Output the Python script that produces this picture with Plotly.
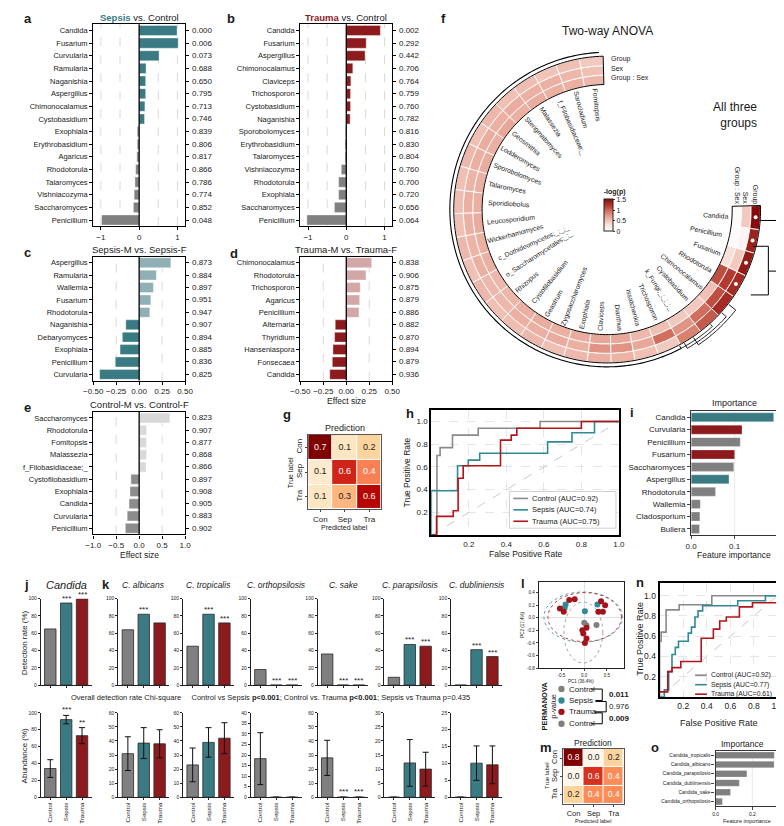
import numpy as np
import plotly.graph_objects as go

W, H = 784, 826
FONT = "Liberation Sans, Arial, sans-serif"
TEAL = "#3a7b83"
RED = "#8d1a1c"
GRAY = "#808080"
TXT = "#1a1a1a"
MINUS = "\u2212"

# ---------------- data ----------------
a_cats = ["Candida", "Fusarium", "Curvularia", "Ramularia", "Naganishia", "Aspergillus", "Chimonocalamus",
          "Cystobasidium", "Exophiala", "Erythrobasidium", "Agaricus", "Rhodotorula", "Talaromyces",
          "Vishniacozyma", "Saccharomyces", "Penicillium"]
a_vals = [0.99, 1.02, 0.52, 0.18, 0.17, 0.17, 0.15, 0.14, -0.05, -0.05, -0.06, -0.09, -0.11, -0.13, -0.15, -0.98]
a_p = ["0.000", "0.006", "0.073", "0.688", "0.650", "0.795", "0.713", "0.746", "0.839", "0.806", "0.817",
       "0.866", "0.786", "0.774", "0.852", "0.048"]

b_cats = ["Candida", "Fusarium", "Aspergillus", "Chimonocalamus", "Claviceps", "Trichosporon", "Cystobasidium",
          "Naganishia", "Sporobolomyces", "Erythrobasidium", "Talaromyces", "Vishniacozyma", "Rhodotorula",
          "Exophiala", "Saccharomyces", "Penicillium"]
b_vals = [0.89, 0.52, 0.49, 0.17, 0.12, 0.11, 0.11, 0.10, -0.02, -0.03, -0.03, -0.13, -0.20, -0.20, -0.31, -1.03]
b_p = ["0.002", "0.292", "0.442", "0.706", "0.764", "0.759", "0.760", "0.782", "0.816", "0.830", "0.804",
       "0.760", "0.700", "0.720", "0.656", "0.064"]

c_cats = ["Aspergillus", "Ramularia", "Wallemia", "Fusarium", "Rhodotorula", "Naganishia", "Debaryomyces",
          "Exophiala", "Penicillium", "Curvularia"]
c_vals = [0.345, 0.187, 0.155, 0.127, 0.116, -0.145, -0.183, -0.208, -0.26, -0.43]
c_p = ["0.873", "0.884", "0.897", "0.951", "0.947", "0.907", "0.894", "0.885", "0.836", "0.825"]

d_cats = ["Chimonocalamus", "Rhodotorula", "Trichosporon", "Agaricus", "Penicillium", "Alternaria", "Thyridium",
          "Hanseniaspora", "Fonsecaea", "Candida"]
d_vals = [0.276, 0.214, 0.152, 0.145, 0.138, -0.12, -0.127, -0.145, -0.152, -0.18]
d_p = ["0.838", "0.906", "0.875", "0.879", "0.886", "0.882", "0.870", "0.894", "0.879", "0.936"]

e_cats = ["Saccharomyces", "Rhodotorula", "Fomitopsis", "Malassezia", "f_Filobasidiaceae;_", "Cystofilobasidium",
          "Exophiala", "Candida", "Curvularia", "Penicillium"]
e_vals = [0.67, 0.16, 0.16, 0.16, 0.15, -0.18, -0.20, -0.22, -0.26, -0.30]
e_p = ["0.823", "0.907", "0.877", "0.868", "0.866", "0.897", "0.908", "0.905", "0.883", "0.902"]

f_species = ["Fomitopsis", "Sarocladium", "f_Filobasidiaceae;_", "Malassezia", "Sterigmatomyces", "Geosmithia",
             "Lodderomyces", "Sporobolomyces", "Talaromyces", "Sporidiobolus", "Leucosporidium",
             "Wickerhamomyces", "c_Dothideomycetes;_;_;_", "o_Saccharomycetales;_;_", "Rhizopus",
             "Cystofilobasidium", "Geastrum", "Zygosaccharomyces", "Exophiala", "Claviceps", "Dianthus",
             "Issatchenkia", "Trichosporon", "k_Fungi;_;_;_;_", "Cystobasidium", "Chimonocalamus",
             "Rhodotorula", "Fusarium", "Penicillium", "Candida"]
f_group = [0.45, 0.50, 0.48, 0.52, 0.50, 0.55, 0.50, 0.55, 0.50, 0.52, 0.50, 0.55, 0.50, 0.55, 0.50, 0.52,
           0.55, 0.50, 0.55, 0.60, 0.58, 0.50, 0.45, 0.85, 1.05, 1.30, 1.30, 1.40, 1.35, 1.50]
f_sex = [0.50, 0.55, 0.60, 0.60, 0.62, 0.60, 0.62, 0.60, 0.58, 0.60, 0.60, 0.58, 0.60, 0.55, 0.55, 0.60,
         0.60, 0.62, 0.60, 0.75, 0.75, 0.65, 0.95, 0.75, 0.95, 1.10, 1.20, 0.45, 0.10, 0.45]
f_gs = [0.55, 0.60, 0.60, 0.62, 0.60, 0.65, 0.60, 0.62, 0.60, 0.60, 0.62, 0.60, 0.60, 0.55, 0.55, 0.60,
        0.62, 0.60, 0.62, 0.65, 0.65, 0.55, 0.50, 0.45, 0.45, 0.50, 1.10, 0.30, 0.05, 0.05]
f_sig = ["Rhodotorula", "Fusarium", "Penicillium", "Candida"]

cm_labels = ["Con", "Sep", "Tra"]
g_cm = [[0.72, 0.10, 0.18], [0.08, 0.56, 0.39], [0.10, 0.28, 0.62]]
m_cm = [[0.80, 0.00, 0.20], [0.00, 0.60, 0.40], [0.20, 0.40, 0.40]]

h_names = ["Control (AUC=0.92)", "Sepsis (AUC=0.74)", "Trauma (AUC=0.75)"]
h_fpr = [[0, 0.03, 0.03, 0.047, 0.047, 0.113, 0.113, 0.25, 0.25, 0.58, 0.58, 1.0],
         [0, 0, 0.14, 0.14, 0.197, 0.197, 0.258, 0.258, 0.62, 0.62, 0.75, 0.75, 0.87, 0.87, 1.0],
         [0, 0.028, 0.028, 0.117, 0.117, 0.143, 0.143, 0.17, 0.17, 0.369, 0.369, 0.426, 0.426, 0.456, 0.456,
          0.8, 0.8, 1.0]]
h_tpr = [[0, 0, 0.70, 0.70, 0.77, 0.77, 0.88, 0.88, 0.94, 0.94, 1.0, 1.0],
         [0, 0.39, 0.39, 0.61, 0.61, 0.66, 0.66, 0.72, 0.72, 0.82, 0.82, 0.90, 0.90, 1.0, 1.0],
         [0, 0, 0.165, 0.165, 0.215, 0.215, 0.5, 0.5, 0.61, 0.61, 0.836, 0.836, 0.88, 0.88, 0.94, 0.94, 1.0,
          1.0]]

n_names = ["Control (AUC=0.92)", "Sepsis (AUC=0.77)", "Trauma (AUC=0.61)"]
n_fpr = [[0, 0, 0.013, 0.013, 0.055, 0.055, 0.166, 0.166, 0.443, 0.443, 1.0],
         [0, 0.04, 0.04, 0.077, 0.077, 0.105, 0.105, 0.133, 0.133, 0.16, 0.16, 0.243, 0.243, 0.27, 0.27, 0.30,
          0.30, 0.326, 0.326, 0.365, 0.365, 0.663, 0.663, 0.898, 0.898, 1.0],
         [0, 0.069, 0.069, 0.105, 0.105, 0.18, 0.18, 0.353, 0.353, 0.456, 0.456, 0.51, 0.51, 0.566, 0.566,
          0.677, 0.677, 0.788, 0.788, 1.0]]
n_tpr = [[0, 0.55, 0.55, 0.64, 0.64, 0.86, 0.86, 0.91, 0.91, 1.0, 1.0],
         [0, 0, 0.07, 0.07, 0.25, 0.25, 0.42, 0.42, 0.49, 0.49, 0.55, 0.55, 0.63, 0.63, 0.69, 0.69, 0.79, 0.79,
          0.85, 0.85, 0.90, 0.90, 0.95, 0.95, 1.0, 1.0],
         [0.05, 0.05, 0.25, 0.25, 0.29, 0.29, 0.35, 0.35, 0.58, 0.58, 0.67, 0.67, 0.75, 0.75, 0.79, 0.79, 0.89,
          0.89, 0.93, 0.93]]

i_cats = ["Candida", "Curvularia", "Penicillium", "Fusarium", "Saccharomyces", "Aspergillus", "Rhodotorula",
          "Wallemia", "Cladosporium", "Bullera"]
i_vals = [0.19, 0.117, 0.113, 0.10, 0.098, 0.087, 0.056, 0.021, 0.020, 0.019]
i_group = ["Sepsis", "Trauma", "Control", "Trauma", "Control", "Sepsis", "Control", "Control", "Control", "Control"]

groups = ["Control", "Sepsis", "Trauma"]
jk_titles = ["Candida", "C. albicans", "C. tropicalis", "C. orthopsilosis", "C. sake", "C. parapsilosis",
             "C. dubliniensis"]
det_rate = [[65, 95, 100], [64, 82, 72], [45, 82, 72], [18, 0, 0], [36, 0, 0], [9, 47, 45], [0, 41, 33]]
det_stars = [["", "***", "***"], ["", "***", ""], ["", "***", "***"], ["", "***", "***"], ["", "***", "***"],
             ["", "***", "***"], ["", "***", "***"]]
abund = [[34, 92, 73], [31, 38.5, 38], [23, 39, 42], [18.3, 0, 0], [28, 0, 0], [0, 12.2, 10], [0, 10.1, 9.6]]
abund_err = [[10.5, 5, 9.5], [12, 11, 10], [12, 10.5, 11], [12.3, 0, 0], [12.5, 0, 0], [0, 8.3, 6],
             [0, 5.1, 5.6]]
abund_stars = [["", "***", "**"], ["", "", ""], ["", "", ""], ["", "", ""], ["", "***", "***"], ["", "", ""],
               ["", "", ""]]
abund_ymax = [100, 60, 60, 40, 60, 30, 25]
abund_dtick = [20, 10, 10, 5, 10, 5, 5]

l_ctrl_x = [0.0, 0.27, 0.05]
l_ctrl_y = [-0.08, -0.115, -0.12]
l_seps_x = [-0.41, -0.43, 0.015, 0.29]
l_seps_y = [0.21, 0.16, 0.105, 0.21]
l_trau_x = [-0.535, -0.45, -0.33, -0.21, 0.37, 0.46, 0.41, 0.31, -0.02, 0.05, 0.05, 0.015, -0.04]
l_trau_y = [0.147, 0.095, 0.28, 0.295, 0.26, 0.2, 0.095, 0.095, -0.25, -0.16, -0.33, -0.4, -0.2]
ell_cx = [-0.02, -0.025, 0.01]
ell_cy = [-0.235, 0.01, 0.01]
ell_rx = [0.43, 0.865, 0.81]
ell_ry = [0.485, 0.40, 0.39]
perm_p = ["0.011", "0.976", "0.009"]

o_cats = ["Candida_tropicalis", "Candida_albicans", "Candida_parapsilosis", "Candida_dubliniensis",
          "Candida_sake", "Candida_orthopsilosis"]
o_vals = [0.319, 0.318, 0.17, 0.129, 0.081, 0.037]

GCOL = {"Control": GRAY, "Sepsis": TEAL, "Trauma": RED}
ROC_COLS = ["#8a8a8a", "#2e8a95", "#b3151b"]

# ---------------- helpers ----------------
fig = go.Figure()
L = {}
ann = []
shapes = []
_n = [0]


def X(px):
    return px / W


def Y(py):
    return 1 - py / H


def new_axes(x0, x1, y0, y1, xa, ya):
    _n[0] += 1
    s = '' if _n[0] == 1 else str(_n[0])
    xa = dict(xa)
    ya = dict(ya)
    xa.update(domain=[X(x0), X(x1)], anchor='y' + s)
    ya.update(domain=[Y(y1), Y(y0)], anchor='x' + s)
    L['xaxis' + s] = xa
    L['yaxis' + s] = ya
    return 'x' + s, 'y' + s


def txt(px, py, text, size=8, xanchor='center', yanchor='middle', angle=0, color=TXT, align='center'):
    ann.append(dict(x=X(px), y=Y(py), xref='paper', yref='paper', text=text, showarrow=False,
                    xanchor=xanchor, yanchor=yanchor, textangle=angle, align=align, borderpad=0,
                    font=dict(size=size, color=color, family=FONT)))


def pline(x0, y0, x1, y1, color='black', width=1, dash=None):
    ln = dict(color=color, width=width)
    if dash:
        ln['dash'] = dash
    shapes.append(dict(type='line', xref='paper', yref='paper', x0=X(x0), y0=Y(y0), x1=X(x1), y1=Y(y1), line=ln))


def fmt(v, spec):
    return spec.format(v).replace('-', MINUS)


def effect_panel(box, cats, vals, pvals, pos_col, neg_col, xr, xticks, spec, grids, title, xtitle=None):
    x0, x1, y0, y1 = box
    n = len(cats)
    idx = list(range(n))
    xa = dict(range=xr, tickmode='array', tickvals=xticks, ticktext=[fmt(v, spec) for v in xticks],
              ticks='outside', ticklen=3, tickcolor='black', showline=True, linecolor='black', linewidth=1.3,
              mirror=True, showgrid=False, zeroline=False, tickfont=dict(size=8))
    ya = dict(range=[n - 0.5, -0.5], tickmode='array', tickvals=idx, ticktext=cats, ticks='outside', ticklen=3,
              tickcolor='black', showline=True, linecolor='black', linewidth=1.3, mirror='ticks',
              showgrid=False, zeroline=False, tickfont=dict(size=7.5))
    xn, yn = new_axes(x0, x1, y0, y1, xa, ya)
    cols = [pos_col if v >= 0 else neg_col for v in vals]
    fig.add_trace(go.Bar(x=vals, y=idx, orientation='h', width=0.8,
                         marker=dict(color=cols, line=dict(color='rgba(255,255,255,0.6)', width=0.6)),
                         xaxis=xn, yaxis=yn, showlegend=False, hoverinfo='skip'))
    for g in grids:
        shapes.append(dict(type='line', xref=xn, yref=yn + ' domain', x0=g, x1=g, y0=0, y1=1, layer='below',
                           line=dict(color='#cfcfcf', width=0.8, dash='dash')))
    shapes.append(dict(type='line', xref=xn, yref=yn + ' domain', x0=0, x1=0, y0=0, y1=1,
                       line=dict(color='black', width=1.3)))
    for i, p in enumerate(pvals):
        ann.append(dict(xref=xn + ' domain', yref=yn, x=1, y=i, xanchor='left', xshift=5, text=p,
                        showarrow=False, font=dict(size=8, family=FONT, color=TXT)))
    txt((x0 + x1) / 2, y0 - 7, title, size=9.5)
    if xtitle:
        txt((x0 + x1) / 2, y1 + 21, xtitle, size=8.5)


# ---------------- panels a-e ----------------
effect_panel((77, 171, 13.3, 216.9), a_cats, a_vals, a_p, TEAL, GRAY, [-1.2, 1.2], [-1, 0, 1], "{:.0f}",
             [-1, -0.5, 0.5, 1], "<b><span style='color:%s'>Sepsis</span></b> vs. Control" % TEAL)
effect_panel((289, 383, 13.3, 216.9), b_cats, b_vals, b_p, RED, GRAY, [-1.2, 1.2], [-1, 0, 1], "{:.0f}",
             [-1, -0.5, 0.5, 1], "<b><span style='color:%s'>Trauma</span></b> vs. Control" % RED)
effect_panel((77, 171, 247.3, 372.3), c_cats, c_vals, c_p, "#8fb1b6", TEAL, [-0.5, 0.5],
             [-0.5, -0.25, 0, 0.25, 0.5], "{:.2f}", [-0.25, 0.25], "Sepsis-M vs. Sepsis-F")
effect_panel((289, 383, 247.3, 372.3), d_cats, d_vals, d_p, "#d3a6a8", RED, [-0.5, 0.5],
             [-0.5, -0.25, 0, 0.25, 0.5], "{:.2f}", [-0.25, 0.25], "Trauma-M vs. Trauma-F", "Effect size")
effect_panel((77, 171, 403.8, 527.2), e_cats, e_vals, e_p, "#d9d9d9", "#8c8c8c", [-1, 1],
             [-1, -0.5, 0, 0.5, 1], "{:.1f}", [-0.5, 0.5], "Control-M vs. Control-F", "Effect size")


# ---------------- confusion matrices ----------------
def conf_panel(box, cm, tick_size=8):
    x0, x1, y0, y1 = box
    xa = dict(type='category', categoryorder='array', categoryarray=cm_labels, ticks='outside', ticklen=2,
              showline=True, linecolor='#555', linewidth=1, mirror=True, tickfont=dict(size=tick_size),
              showgrid=False, zeroline=False)
    ya = dict(type='category', categoryorder='array', categoryarray=cm_labels, autorange='reversed',
              ticks='outside', ticklen=2, showline=True, linecolor='#555', linewidth=1, mirror=True,
              tickfont=dict(size=tick_size), tickangle=-90, showgrid=False, zeroline=False)
    xn, yn = new_axes(x0, x1, y0, y1, xa, ya)
    zmax = max(max(r) for r in cm)
    fig.add_trace(go.Heatmap(z=cm, x=cm_labels, y=cm_labels, colorscale='OrRd', zmin=0, zmax=zmax,
                             showscale=False, xgap=1, ygap=1, xaxis=xn, yaxis=yn, hoverinfo='skip'))
    tx, ty, tt, tc = [], [], [], []
    for r, row in enumerate(cm):
        for c, v in enumerate(row):
            tx.append(cm_labels[c]); ty.append(cm_labels[r]); tt.append("%.1f" % v)
            tc.append('white' if v > 0.35 else '#222')
    fig.add_trace(go.Scatter(x=tx, y=ty, text=tt, mode='text', textfont=dict(color=tc, size=tick_size + 1),
                             xaxis=xn, yaxis=yn, showlegend=False, hoverinfo='skip'))


conf_panel((297, 372, 427, 502), g_cm, 8)
txt(334.5, 420, "Prediction", size=9)
txt(279, 465, "True label", size=7, angle=-90)
txt(334.5, 520, "Predicted label", size=7)


# ---------------- ROC panels ----------------
def roc_panel(box, fprs, tprs, names, tick_size, yr, leg):
    x0, x1, y0, y1 = box
    common = dict(showline=True, linecolor='black', linewidth=2, mirror=True, showgrid=True, gridcolor='#e6e6e6',
                  griddash='dash', gridwidth=0.8, zeroline=False, ticks='', tickfont=dict(size=tick_size),
                  tickmode='array', tickvals=[0.2, 0.4, 0.6, 0.8, 1.0],
                  ticktext=["0.2", "0.4", "0.6", "0.8", "1.0"])
    xa = dict(common, range=[0, 1.0])
    ya = dict(common, range=yr)
    xn, yn = new_axes(x0, x1, y0, y1, xa, ya)
    fig.add_trace(go.Scatter(x=[0, 1], y=[0, 1], mode='lines', line=dict(color='#c8c8c8', width=1, dash='dash'),
                             xaxis=xn, yaxis=yn, showlegend=False, hoverinfo='skip'))
    for fp, tp, col in zip(fprs, tprs, ROC_COLS):
        fig.add_trace(go.Scatter(x=fp, y=tp, mode='lines', line=dict(color=col, width=1.6),
                                 xaxis=xn, yaxis=yn, showlegend=False, hoverinfo='skip'))
    lx0, ly0, step, sw, fs, box_on = leg
    if box_on:
        shapes.append(dict(type='rect', xref='paper', yref='paper', x0=X(lx0 - 4), x1=X(x1 - 3),
                           y0=Y(ly0 - 7), y1=Y(ly0 + 2 * step + 7), fillcolor='rgba(255,255,255,0.92)',
                           line=dict(color='#c4c4c4', width=0.8)))
    for j, (nm, col) in enumerate(zip(names, ROC_COLS)):
        yy = ly0 + j * step
        pline(lx0, yy, lx0 + sw, yy, color=col, width=1.6)
        txt(lx0 + sw + 3, yy, nm, size=fs, xanchor='left')
    return xn, yn


roc_panel((423, 615, 402, 528), h_fpr, h_tpr, h_names, 8, [0, 1.1], (507, 491, 11.5, 15, 7.5, True))
txt(398, 465, "True Positive Rate", size=8.5, angle=-90)
txt(519, 547, "False Positive Rate", size=8.5)


# ---------------- importance panels ----------------
def imp_panel(box, cats, vals, cols, xr, xticks, grid, tfont, yfont):
    x0, x1, y0, y1 = box
    n = len(cats)
    idx = list(range(n))
    xa = dict(range=xr, tickmode='array', tickvals=xticks, ticktext=["%.1f" % v for v in xticks],
              ticks='outside', ticklen=3, showline=True, linecolor='#333', linewidth=1.4, mirror=True,
              showgrid=False, zeroline=False, tickfont=dict(size=tfont))
    ya = dict(range=[n - 0.5, -0.5], tickmode='array', tickvals=idx, ticktext=cats, ticks='outside', ticklen=3,
              showline=True, linecolor='#333', linewidth=1.4, mirror=True, showgrid=False, zeroline=False,
              tickfont=dict(size=yfont))
    xn, yn = new_axes(x0, x1, y0, y1, xa, ya)
    shapes.append(dict(type='line', xref=xn, yref=yn + ' domain', x0=grid, x1=grid, y0=0, y1=1, layer='below',
                       line=dict(color='#e2e2e2', width=0.8)))
    fig.add_trace(go.Bar(x=vals, y=idx, orientation='h', width=0.72,
                         marker=dict(color=cols, line=dict(color='rgba(255,255,255,0.5)', width=0.5)),
                         xaxis=xn, yaxis=yn, showlegend=False, hoverinfo='skip'))


imp_panel((689, 777, 403, 528), i_cats, i_vals, [GCOL[g] for g in i_group], [0, 0.198], [0, 0.1], 0.1, 8, 8)
txt(733, 395, "Importance", size=9)
txt(733, 548, "Feature importance", size=8.5)

# ---------------- panels j/k ----------------
lefts = [23.3, 102.7, 169, 238.3, 306.7, 375, 443.3]
for k in range(7):
    x0 = lefts[k]
    x1 = x0 + 52
    base_x = dict(type='category', categoryorder='array', categoryarray=groups, range=[-0.6, 2.6],
                  showline=True, linecolor='#222', linewidth=0.9, ticks='outside', ticklen=2, tickcolor='#222',
                  showgrid=False, zeroline=False)
    base_y = dict(showline=True, linecolor='#222', linewidth=0.9, ticks='outside', ticklen=2, tickcolor='#222',
                  showgrid=False, zeroline=False, tickfont=dict(size=5))
    xn, yn = new_axes(x0, x1, 592, 679, dict(base_x, showticklabels=False),
                      dict(base_y, range=[0, 100], tick0=0, dtick=20))
    fig.add_trace(go.Bar(x=groups, y=det_rate[k], width=0.72,
                         marker=dict(color=[GCOL[g] for g in groups], line=dict(color='#2a2a2a', width=0.8)),
                         xaxis=xn, yaxis=yn, showlegend=False, hoverinfo='skip'))
    for g, v, s in zip(groups, det_rate[k], det_stars[k]):
        if s:
            ann.append(dict(xref=xn, yref=yn, x=g, y=min(v, 100), yanchor='bottom', yshift=-2, text=s,
                            showarrow=False, font=dict(size=8, family=FONT, color=TXT)))
    xn, yn = new_axes(x0, x1, 707, 792, dict(base_x, tickangle=-90, tickfont=dict(size=6.2)),
                      dict(base_y, range=[0, abund_ymax[k]], tick0=0, dtick=abund_dtick[k]))
    fig.add_trace(go.Bar(x=groups, y=abund[k], width=0.72,
                         marker=dict(color=[GCOL[g] for g in groups], line=dict(color='#2a2a2a', width=0.8)),
                         error_y=dict(type='data', array=abund_err[k], color='#111', thickness=1, width=3),
                         xaxis=xn, yaxis=yn, showlegend=False, hoverinfo='skip'))
    for g, v, e, s in zip(groups, abund[k], abund_err[k], abund_stars[k]):
        if s:
            ann.append(dict(xref=xn, yref=yn, x=g, y=min(v + e, abund_ymax[k]), yanchor='bottom', yshift=-1,
                            text=s, showarrow=False, font=dict(size=8, family=FONT, color=TXT)))
    txt((x0 + x1) / 2, 578, "<i>%s</i>" % jk_titles[k], size=11 if k == 0 else 8.5)

txt(7, 636, "Detection rate (%)", size=8, angle=-90)
txt(7, 750, "Abundance (%)", size=8, angle=-90)
txt(53, 692, "Overall detection rate Chi-square&nbsp;&nbsp;&nbsp;&nbsp;&nbsp;Control vs Sepsis <b>p&lt;0.001</b>; "
             "Control vs. Trauma <b>p&lt;0.001</b>; Sepsis vs Trauma p=0.435", size=7.5, xanchor='left')

# ---------------- panel l ----------------
lx = dict(range=[-1.0, 0.87], tickmode='array', tickvals=[-0.5, 0, 0.5], ticktext=["-0.5", "0.0", "0.5"],
          ticks='outside', ticklen=2, showline=True, linecolor='#222', linewidth=1.2, mirror=True,
          showgrid=False, zeroline=True, zerolinecolor='#e0e0e0', zerolinewidth=0.8, tickfont=dict(size=4.5))
ly = dict(range=[-0.8, 0.57], tickmode='array', tickvals=[-0.8, -0.6, -0.4, -0.2, 0, 0.2, 0.4],
          ticktext=["-0.8", "-0.6", "-0.4", "-0.2", "0.0", "0.2", "0.4"], ticks='outside', ticklen=2,
          showline=True, linecolor='#222', linewidth=1.2, mirror=True, showgrid=False, zeroline=True,
          zerolinecolor='#e0e0e0', zerolinewidth=0.8, tickfont=dict(size=4.5))
xn, yn = new_axes(533, 620, 575, 662, lx, ly)
tt = np.linspace(0, 2 * np.pi, 120)
ell_cols = ["#9a9a9a", "#3a9aa5", "#c0282c"]
for cxe, cye, rxe, rye, col in zip(ell_cx, ell_cy, ell_rx, ell_ry, ell_cols):
    fig.add_trace(go.Scatter(x=cxe + rxe * np.cos(tt), y=cye + rye * np.sin(tt), mode='lines',
                             line=dict(color=col, width=0.9, dash='dot'), xaxis=xn, yaxis=yn,
                             showlegend=False, hoverinfo='skip'))
for xs, ys, col in [(l_ctrl_x, l_ctrl_y, GRAY), (l_seps_x, l_seps_y, "#2f8a94"), (l_trau_x, l_trau_y, "#a3141a")]:
    fig.add_trace(go.Scatter(x=xs, y=ys, mode='markers', marker=dict(color=col, size=6),
                             xaxis=xn, yaxis=yn, showlegend=False, hoverinfo='skip'))
txt(576.5, 675, "PC1 (36.4%)", size=4.5)
txt(516, 618, "PC2 (17.4%)", size=4.5, angle=-90)

leg_rows = [("Control", GRAY, 683), ("Sepsis", "#2f8a94", 694.5), ("Trauma", "#a3141a", 706),
            ("Control", GRAY, 718)]
for name, col, yy in leg_rows:
    shapes.append(dict(type='circle', xref='paper', yref='paper', x0=X(553), x1=X(559.5), y0=Y(yy + 3.25),
                       y1=Y(yy - 3.25), fillcolor=col, line=dict(width=0)))
    txt(563, yy, name, size=8, xanchor='left')
pline(586, 683, 598, 683)
pline(598, 683, 598, 694.5)
pline(591, 694.5, 598, 694.5)
pline(591, 695.5, 602, 695.5)
pline(602, 695.5, 602, 706)
pline(590, 706, 602, 706)
pline(590, 707, 598, 707)
pline(598, 707, 598, 718)
pline(586, 718, 598, 718)
txt(604, 688.5, "<b>%s</b>" % perm_p[0], size=8, xanchor='left')
txt(604, 700.5, perm_p[1], size=8, xanchor='left')
txt(604, 712.5, "<b>%s</b>" % perm_p[2], size=8, xanchor='left')
txt(544, 700, "<b>PERMANOVA</b><br>p-value", size=7.5, angle=-90)

# ---------------- panel m ----------------
conf_panel((558.3, 620, 743.3, 799), m_cm, 7.5)
txt(589, 737, "Prediction", size=8.5)
txt(542, 771, "True label", size=6, angle=-90)
txt(589, 816, "Predicted label", size=5.5)

# ---------------- panel n ----------------
roc_panel((656.7, 777.3, 575.7, 691), n_fpr, n_tpr, n_names, 8.5, [0, 1.13], (693, 669, 9.6, 12, 6.8, False))
txt(637, 632, "True Positive Rate", size=9, angle=-90)
txt(717, 717, "False Positive Rate", size=9)

# ---------------- panel o ----------------
imp_panel((714, 778, 745, 801), o_cats, o_vals, [GRAY] * len(o_cats), [0, 0.34], [0, 0.2], 0.2, 5, 5)
txt(742, 738, "Importance", size=8.5)
txt(746, 816, "Feature importance", size=5.5)

# ---------------- panel f (circular heatmap) ----------------
CX, CY, RD = 603.0, 200.0, 180.0
R_IN, R_OUT = 128.0, 157.0
F_START, F_STEP = 91.5, 9.0
thick = (R_OUT - R_IN) / 3
theta_c = [F_START + F_STEP * (i + 0.5) for i in range(len(f_species))]
F_CS = [[0, '#ffffff'], [0.2, '#f9e1da'], [0.4, '#ebb0a2'], [0.6, '#d77866'], [0.8, '#b23a2e'],
        [1, '#870a0c']]
for k, vals in enumerate([f_gs, f_sex, f_group]):
    mk = dict(color=vals, colorscale=F_CS, cmin=0, cmax=1.5, line=dict(color='white', width=0.9),
              showscale=(k == 0))
    if k == 0:
        mk['colorbar'] = dict(x=X(600), xanchor='left', xpad=0, y=Y(222), yanchor='bottom', ypad=0,
                              len=45, lenmode='pixels', thickness=9, outlinewidth=1, outlinecolor='#222',
                              tickvals=[0, 0.5, 1, 1.5], ticktext=["0", "0.5", "1", "1.5"],
                              tickfont=dict(size=7, family=FONT), ticks='outside', ticklen=2,
                              title=dict(text='<b>-log(p)</b>', side='top', font=dict(size=7, family=FONT)))
    fig.add_trace(go.Barpolar(theta=theta_c, r=[thick] * len(vals), base=[R_IN + k * thick] * len(vals),
                              width=[F_STEP] * len(vals), marker=mk, subplot='polar', showlegend=False,
                              hoverinfo='skip'))

th0, th1 = F_START, F_START + F_STEP * len(f_species)
arc = np.linspace(th0, th1, 200)
fig.add_trace(go.Scatterpolar(theta=np.concatenate([arc, arc[::-1], [th0]]),
                              r=np.concatenate([np.full(200, R_OUT), np.full(200, R_IN), [R_OUT]]),
                              mode='lines', line=dict(color='black', width=1), subplot='polar',
                              showlegend=False, hoverinfo='skip'))
arc2 = np.linspace(93, 298, 200)
fig.add_trace(go.Scatterpolar(theta=arc2, r=np.full(200, R_OUT + 4), mode='lines',
                              line=dict(color='black', width=1.1), subplot='polar', showlegend=False,
                              hoverinfo='skip'))
for a0, a1, rr in [(298, 312, R_OUT + 4), (300, 318, R_OUT + 7), (304, 322, R_OUT + 10)]:
    aa = np.linspace(a0, a1, 30)
    fig.add_trace(go.Scatterpolar(theta=np.concatenate([[a0], aa, [a1]]),
                                  r=np.concatenate([[R_OUT + 1], np.full(30, rr), [R_OUT + 1]]), mode='lines',
                                  line=dict(color='black', width=0.9), subplot='polar', showlegend=False,
                                  hoverinfo='skip'))
sig_th = [theta_c[f_species.index(s)] for s in f_sig]
fig.add_trace(go.Scatterpolar(theta=sig_th, r=[R_IN + 2.5 * thick] * len(sig_th), mode='markers',
                              marker=dict(color='white', size=4), subplot='polar', showlegend=False,
                              hoverinfo='skip'))
L['polar'] = dict(domain=dict(x=[X(CX - RD), X(CX + RD)], y=[Y(CY + RD), Y(CY - RD)]),
                  bgcolor='rgba(0,0,0,0)', barmode='overlay', hole=0,
                  radialaxis=dict(range=[0, RD], visible=False),
                  angularaxis=dict(visible=False, rotation=0, direction='counterclockwise'))

pline(759, 211, 778, 211)
pline(778, 211, 778, 262)
pline(768, 262, 778, 262)
pline(768, 237, 768, 286)
pline(752, 237, 768, 237)
pline(750, 286, 768, 286)

for i, name in enumerate(f_species):
    th = theta_c[i]
    Lt = 3.6 * len(name)
    rc = R_IN - 4 - Lt / 2
    px = CX + rc * np.cos(np.radians(th))
    py = CY - rc * np.sin(np.radians(th))
    ang = -(th + 180) if 90 <= th < 270 else -th
    ang = (ang + 180) % 360 - 180
    txt(px, py, name, size=6.8, angle=ang)

txt(603, 20, "Two-way ANOVA", size=12)
txt(757, 105, "All three<br>groups", size=12, xanchor='right', align='right')
txt(606, 48, "Group", size=7, xanchor='left')
txt(606, 57.5, "Sex", size=7, xanchor='left')
txt(606, 67, "Group : Sex", size=7, xanchor='left')
for rr, lab in [(R_IN + 0.5 * thick, "Group : Sex"), (R_IN + 1.5 * thick, "Sex"), (R_IN + 2.5 * thick, "Group")]:
    txt(CX + rr, 196, lab, size=7, angle=90, yanchor='bottom')

# ---------------- panel letters ----------------
for lab, px, py in [("a", 5, 8), ("b", 213, 8), ("c", 5, 243), ("d", 216, 244), ("e", 5, 399), ("f", 432, 8),
                    ("g", 270, 406), ("h", 396, 405), ("i", 625, 404), ("j", 5, 578), ("k", 85, 578),
                    ("l", 514, 577), ("m", 533, 742), ("n", 632, 576), ("o", 647, 742)]:
    txt(px, py, "<b>%s</b>" % lab, size=13, xanchor='left')

fig.update_layout(width=W, height=H, margin=dict(l=0, r=0, t=0, b=0), paper_bgcolor='white',
                  plot_bgcolor='white', font=dict(family=FONT, color=TXT, size=8), showlegend=False,
                  annotations=ann, shapes=shapes, **L)
fig.write_html("out.html")
